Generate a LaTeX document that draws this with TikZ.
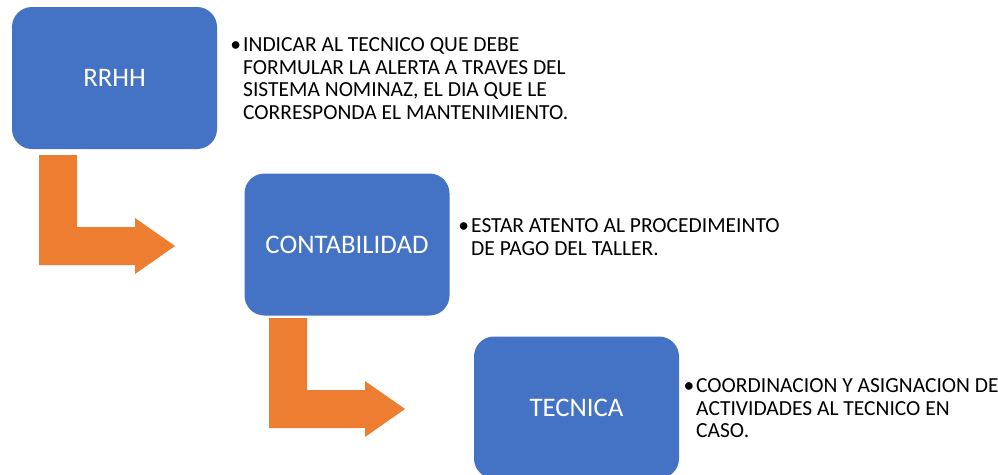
\documentclass[tikz,border=0pt]{standalone}
\usepackage{fontspec}
\setmainfont{Carlito}
\definecolor{boxblue}{HTML}{4472C4}
\definecolor{arroworange}{HTML}{ED7D31}
\tikzset{
  stagebox/.style={fill=boxblue, draw=none, rounded corners=20pt, text=white,
    minimum width=205pt, minimum height=142pt, inner sep=0pt,
    font=\fontsize{26.8}{32}\selectfont},
  bullettext/.style={anchor=north west, inner sep=0pt, align=left, text=black,
    font=\fontsize{21.5}{22.7}\selectfont},
  bentarrow/.style={fill=arroworange, draw=none}
}
\begin{document}
\begin{tikzpicture}[x=1pt,y=-1pt]
\useasboundingbox (0,0) rectangle (998,474);
\fill[white] (0,0) rectangle (998,474);

% bent arrows
\fill[bentarrow] (39,155) -- (77,155) -- (77,227) -- (135,227) -- (135,218) -- (175,246) -- (135,274) -- (135,265) -- (39,265) -- cycle;
\fill[bentarrow] (269,318) -- (307,318) -- (307,390) -- (365,390) -- (365,381) -- (405,409) -- (365,437) -- (365,428) -- (269,428) -- cycle;

% boxes
\node[stagebox] (rrhh) at (114.5,78) {RRHH};
\node[stagebox] (conta) at (347,244.5) {CONTABILIDAD};
\node[stagebox] (tecnica) at (576.5,407.5) {TECNICA};

% bullet texts
\node[bullettext] (t1) at (243,37.2) {\llap{•\kern2pt}INDICAR AL TECNICO QUE DEBE\\FORMULAR LA ALERTA A TRAVES DEL\\SISTEMA NOMINAZ, EL DIA QUE LE\\CORRESPONDA EL MANTENIMIENTO.};
\node[bullettext] (t2) at (471,218.2) {\llap{•\kern2pt}ESTAR ATENTO AL PROCEDIMEINTO\\DE PAGO DEL TALLER.};
\node[bullettext] (t3) at (696,378.2) {\llap{•\kern2pt}COORDINACION Y ASIGNACION DE\\ACTIVIDADES AL TECNICO EN\\CASO.};
\end{tikzpicture}
\end{document}
